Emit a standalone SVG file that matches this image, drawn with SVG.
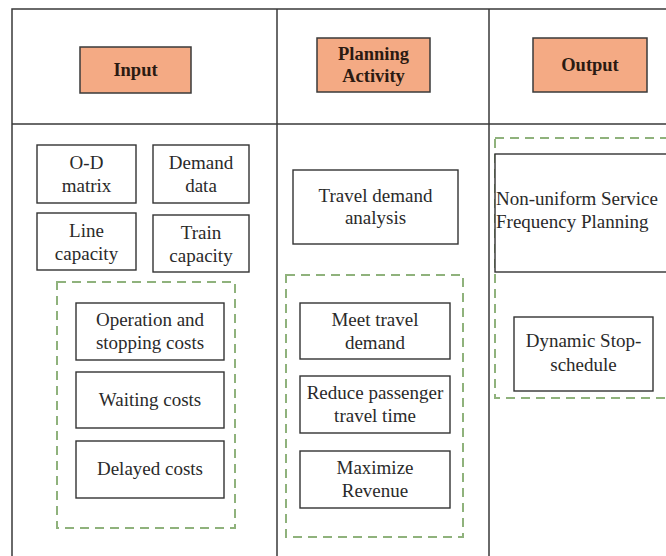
<svg xmlns="http://www.w3.org/2000/svg" width="666" height="556" viewBox="0 0 666 556">
<style>
.grid{stroke:#3a3a3a;stroke-width:1.5;fill:none}
.hdr{fill:#F4AA84;stroke:#3a3a3a;stroke-width:1.5}
.box{fill:#fff;stroke:#333;stroke-width:1.4}
.dash{fill:none;stroke:#8fb27c;stroke-width:2;stroke-dasharray:9 6}
text{font-family:"Liberation Serif","Times New Roman",serif;font-size:19px;fill:#2a2a2a;text-anchor:middle}
.b{font-weight:bold;fill:#2b1a12;font-size:18.5px}
</style>
<rect width="666" height="556" fill="#fff"/>
<g id="table">
<path class="grid" d="M12 556 V9 H666 M12 124 H666 M277 9 V556 M489 9 V556"/>
</g>
<g id="input-hdr"><rect class="hdr" x="80" y="47" width="111" height="46"/><text class="b" x="135.5" y="76">Input</text></g>
<g id="planning-hdr"><rect class="hdr" x="317" y="38" width="113" height="54"/><text class="b" x="373.5" y="60">Planning</text><text class="b" x="373.5" y="82">Activity</text></g>
<g id="output-hdr"><rect class="hdr" x="533" y="38" width="114" height="54"/><text class="b" x="590" y="71">Output</text></g>

<g id="od"><rect class="box" x="37" y="145" width="99" height="58"/><text x="86.5" y="169">O-D</text><text x="86.5" y="192">matrix</text></g>
<g id="demand"><rect class="box" x="153" y="145" width="96" height="58"/><text x="201" y="169">Demand</text><text x="201" y="192">data</text></g>
<g id="line"><rect class="box" x="37" y="213" width="99" height="57"/><text x="86.5" y="237">Line</text><text x="86.5" y="260">capacity</text></g>
<g id="train"><rect class="box" x="153" y="215" width="96" height="57"/><text x="201" y="239">Train</text><text x="201" y="262">capacity</text></g>
<g id="costs-group"><rect class="dash" x="57" y="282" width="178" height="246"/></g>
<g id="opcost"><rect class="box" x="76" y="303" width="148" height="57"/><text x="150" y="326">Operation and</text><text x="150" y="349">stopping costs</text></g>
<g id="waiting"><rect class="box" x="76" y="372" width="148" height="56"/><text x="150" y="406">Waiting costs</text></g>
<g id="delayed"><rect class="box" x="76" y="441" width="148" height="57"/><text x="150" y="475">Delayed costs</text></g>

<g id="tda"><rect class="box" x="293" y="170" width="165" height="74"/><text x="375.5" y="202">Travel demand</text><text x="375.5" y="224">analysis</text></g>
<g id="obj-group"><rect class="dash" x="286" y="275" width="177" height="262"/></g>
<g id="meet"><rect class="box" x="300" y="303" width="150" height="56"/><text x="375" y="326">Meet travel</text><text x="375" y="349">demand</text></g>
<g id="reduce"><rect class="box" x="300" y="376" width="150" height="57"/><text x="375" y="399">Reduce passenger</text><text x="375" y="422">travel time</text></g>
<g id="maxrev"><rect class="box" x="300" y="451" width="150" height="57"/><text x="375" y="474">Maximize</text><text x="375" y="497">Revenue</text></g>

<g id="out-group"><rect class="dash" x="495" y="138" width="180" height="260"/></g>
<g id="nusfp"><rect class="box" x="495" y="154" width="180" height="118"/><text x="496" y="205" style="text-anchor:start">Non-uniform Service</text><text x="496" y="228" style="text-anchor:start">Frequency Planning</text></g>
<g id="dss"><rect class="box" x="514" y="317" width="139" height="74"/><text x="583.5" y="347">Dynamic Stop-</text><text x="583.5" y="371">schedule</text></g>
<g id="connectors"></g>
</svg>
